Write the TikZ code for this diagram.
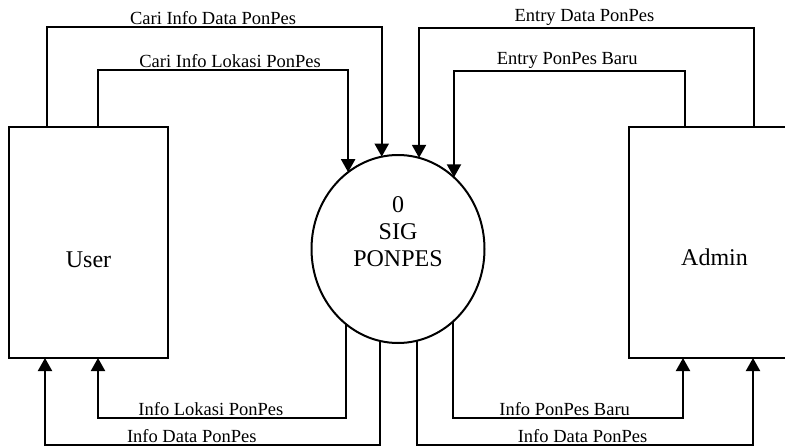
\documentclass[tikz,border=0pt]{standalone}
\usepackage{fontspec}
\setmainfont{Liberation Serif}
\usetikzlibrary{arrows.meta,shapes.geometric}

\begin{document}
\begin{tikzpicture}[x=1pt,y=-1pt,line width=2pt,
    entity/.style={draw,rectangle,inner sep=0pt,outer sep=0pt},
    proses/.style={draw,ellipse,inner sep=0pt,outer sep=0pt,minimum width=173pt,minimum height=188pt},
    flow/.style={-{Triangle[length=13pt,width=14pt]}},
    rflow/.style={{Triangle[length=13pt,width=14pt]}-},
    lbl/.style={above,inner sep=1.5pt,font=\fontsize{18.5}{20}\selectfont},
    big/.style={font=\fontsize{24}{27}\selectfont}]
        \useasboundingbox (0,0) rectangle (785,447);
        \clip (0,0) rectangle (785,447);
        % entitas dan proses
        \node[entity,minimum width=159pt,minimum height=231pt,
              label={[big,name=usertxt,yshift=-17pt]center:User}] (user) at (88.5,242.5) {};
        \node[entity,minimum width=171pt,minimum height=231pt,
              label={[big,name=admintxt,yshift=-15pt]center:Admin}] (admin) at (714.5,242.5) {};
        \node[proses,label={[big,name=proctxt,align=center,yshift=17pt]center:0\\SIG\\PONPES}] (proc) at (398,249) {};

        % aliran dari user
        \draw[flow] ([xshift=38pt]user.north west) -- ++(0,-100) -| node[lbl,pos=0.248]{Cari Info Data PonPes} (proc.100);
        \draw[flow] ([xshift=89pt]user.north west) -- ++(0,-57) -| node[lbl,pos=0.264]{Cari Info Lokasi PonPes} (proc.123);
        % aliran ke user
        \draw[rflow] ([xshift=89pt]user.south west) -- ++(0,60) -| node[lbl,pos=0.228]{Info Lokasi PonPes} (proc.235);
        \draw[rflow] ([xshift=36pt]user.south west) -- ++(0,87) -| node[lbl,pos=0.219]{Info Data PonPes} (proc.259.5);

        % aliran dari admin
        \draw[flow] ([xshift=125pt]admin.north west) -- ++(0,-99) -| node[lbl,pos=0.253]{Entry Data PonPes} (proc.77.7);
        \draw[flow] ([xshift=56pt]admin.north west) -- ++(0,-56) -| node[lbl,pos=0.255]{Entry PonPes Baru} (proc.52);
        % aliran ke admin
        \draw[rflow] ([xshift=54pt]admin.south west) -- ++(0,60) -| node[lbl,pos=0.257]{Info PonPes Baru} (proc.307.3);
        \draw[rflow] ([xshift=124pt]admin.south west) -- ++(0,87) -| node[lbl,pos=0.254]{Info Data PonPes} (proc.282.3);
\end{tikzpicture}
\end{document}
